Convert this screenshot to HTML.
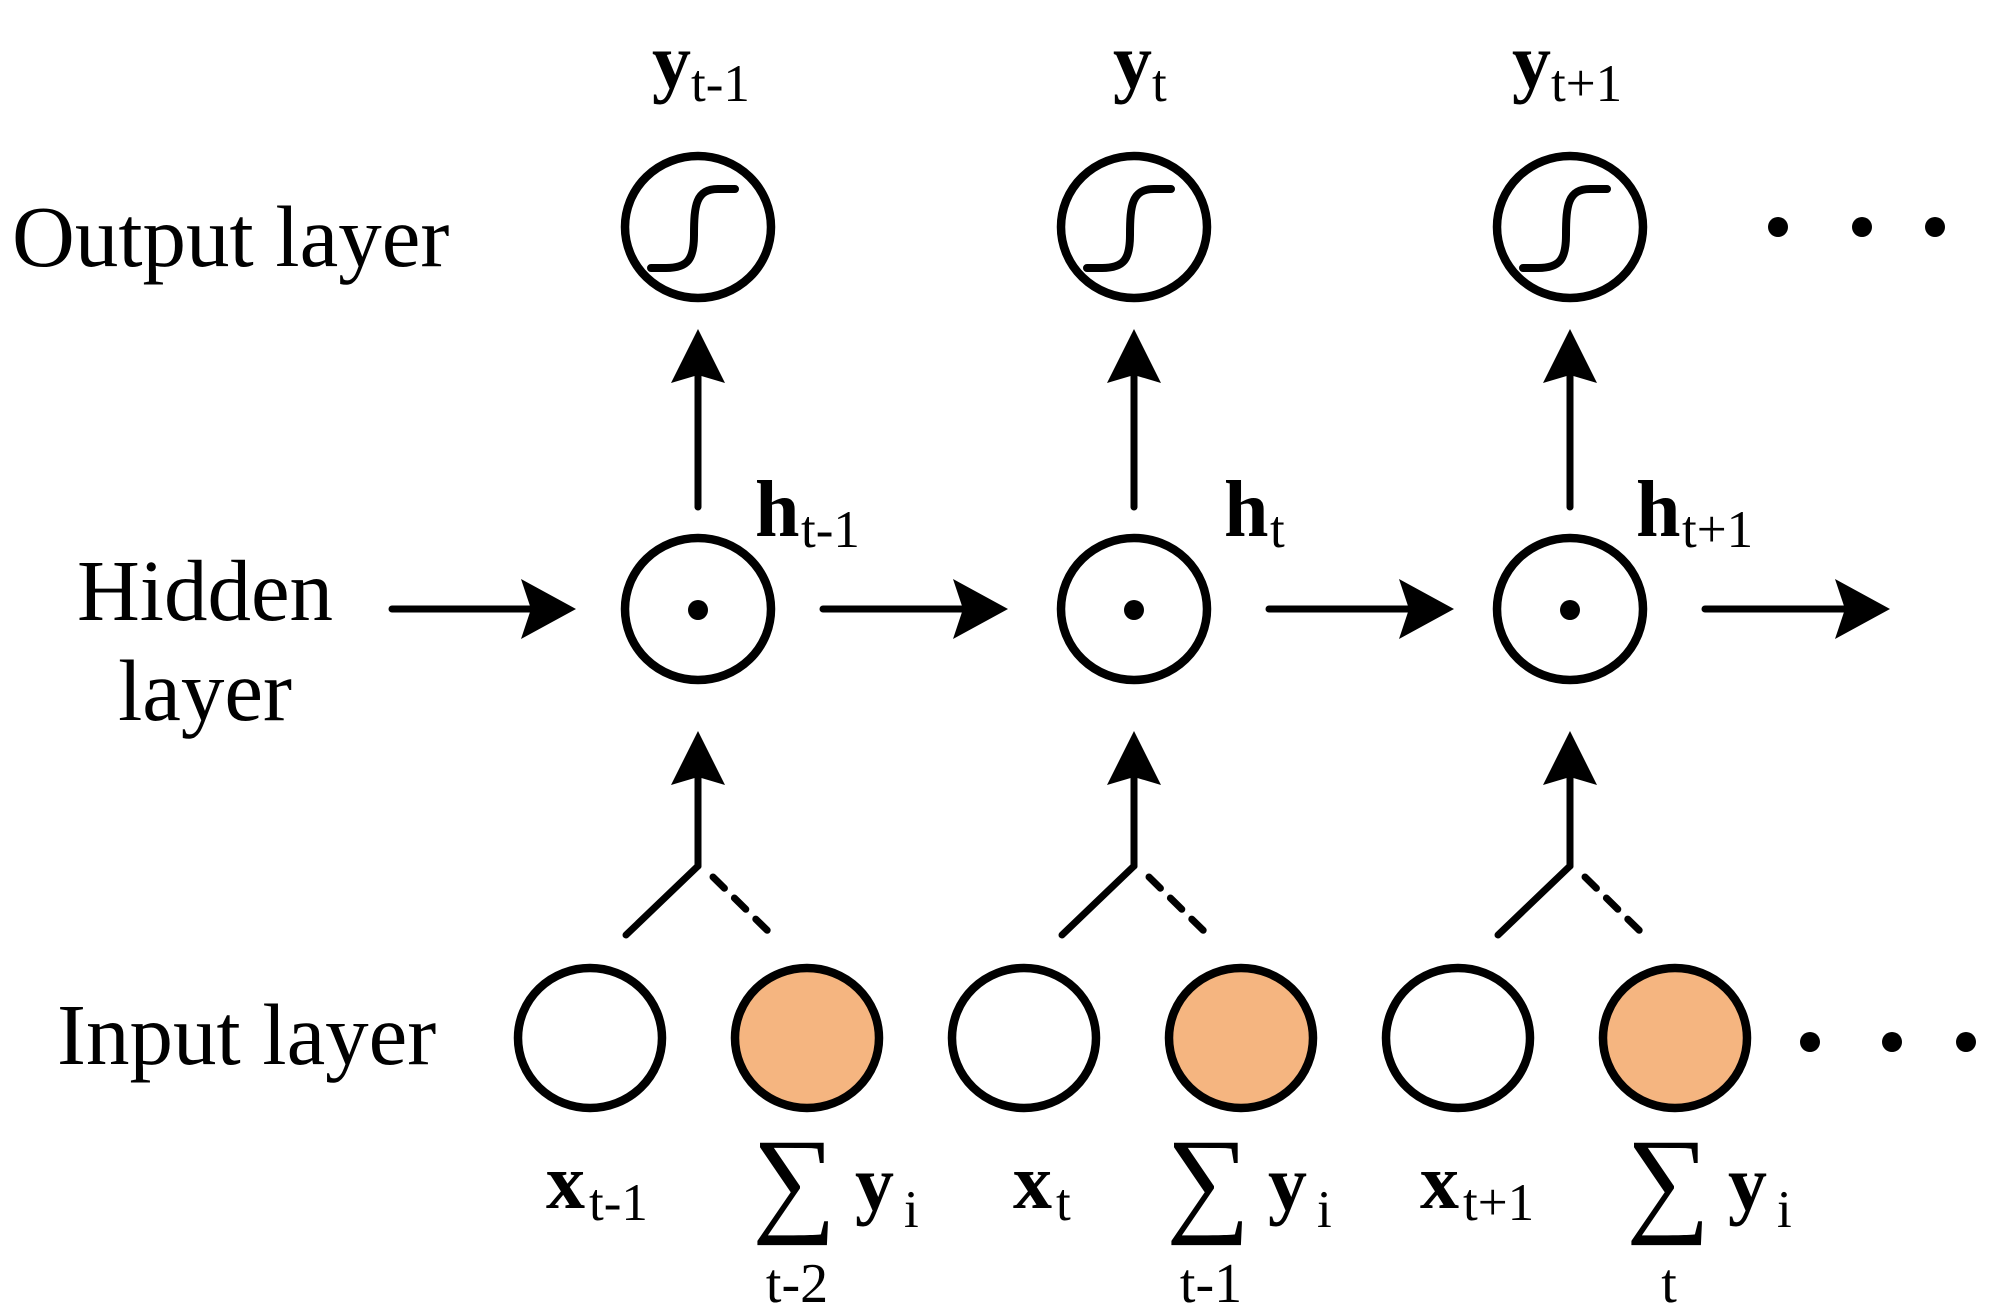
<!DOCTYPE html>
<html><head><meta charset="utf-8"><style>
html,body{margin:0;padding:0;background:#fff}
svg{display:block}
text{font-family:"Liberation Serif",serif;fill:#000}
.b{font-weight:bold}
</style></head><body>
<svg width="1991" height="1309" viewBox="0 0 1991 1309" xmlns="http://www.w3.org/2000/svg">
<defs>
<g id="sig"><path d="M-47,41 L-32,41 C-10,41 -4,32 -4,8 C-4,-22 -2,-38 20,-38 L37,-38" fill="none" stroke="#000" stroke-width="8" stroke-linecap="round"/></g>
<path id="hh" d="M0,0 L-55,-30 L-45,0 L-55,30 Z"/>
<path id="vh" d="M0,0 L-27,54 L0,46 L27,54 Z"/>
</defs>
<g stroke="#000" stroke-width="8.5" fill="none">
<ellipse cx="698" cy="227" rx="73" ry="71"/>
<ellipse cx="1134" cy="227" rx="73" ry="71"/>
<ellipse cx="1570" cy="227" rx="73" ry="71"/>
<ellipse cx="698" cy="609" rx="73" ry="71"/>
<ellipse cx="1134" cy="609" rx="73" ry="71"/>
<ellipse cx="1570" cy="609" rx="73" ry="71"/>
<ellipse cx="590" cy="1038" rx="72" ry="70"/>
<ellipse cx="1024" cy="1038" rx="72" ry="70"/>
<ellipse cx="1458" cy="1038" rx="72" ry="70"/>
<ellipse cx="807" cy="1038" rx="72" ry="70" fill="#F5B580"/>
<ellipse cx="1241" cy="1038" rx="72" ry="70" fill="#F5B580"/>
<ellipse cx="1675" cy="1038" rx="72" ry="70" fill="#F5B580"/>
</g>
<use href="#sig" x="698" y="227"/><use href="#sig" x="1134" y="227"/><use href="#sig" x="1570" y="227"/>
<g fill="#000">
<ellipse cx="698" cy="610" rx="10" ry="10"/><ellipse cx="1134" cy="610" rx="10" ry="10"/><ellipse cx="1570" cy="610" rx="10" ry="10"/>
<circle cx="1778" cy="227" r="10"/><circle cx="1862" cy="227" r="10"/><circle cx="1935" cy="227" r="10"/>
<circle cx="1810" cy="1042" r="10"/><circle cx="1892" cy="1042" r="10"/><circle cx="1966" cy="1042" r="10"/>
</g>
<g stroke="#000" stroke-width="7" stroke-linecap="round" fill="none">
<line x1="698" y1="507" x2="698" y2="375"/><line x1="1134" y1="507" x2="1134" y2="375"/><line x1="1570" y1="507" x2="1570" y2="375"/>
<line x1="392" y1="609" x2="540" y2="609"/><line x1="823" y1="609" x2="975" y2="609"/><line x1="1269" y1="609" x2="1420" y2="609"/><line x1="1705" y1="609" x2="1855" y2="609"/>
<line x1="698" y1="866" x2="698" y2="775"/><line x1="1134" y1="866" x2="1134" y2="775"/><line x1="1570" y1="866" x2="1570" y2="775"/>
<line x1="698" y1="866" x2="626" y2="935"/><line x1="1134" y1="866" x2="1062" y2="935"/><line x1="1570" y1="866" x2="1498" y2="935"/>
<g stroke-dasharray="16 14"><line x1="713" y1="877" x2="774" y2="937"/><line x1="1149" y1="877" x2="1210" y2="937"/><line x1="1585" y1="877" x2="1646" y2="937"/></g>
</g>
<g fill="#000">
<use href="#vh" x="698" y="329"/><use href="#vh" x="1134" y="329"/><use href="#vh" x="1570" y="329"/>
<use href="#vh" x="698" y="731"/><use href="#vh" x="1134" y="731"/><use href="#vh" x="1570" y="731"/>
<use href="#hh" x="576" y="609"/><use href="#hh" x="1008" y="609"/><use href="#hh" x="1454" y="609"/><use href="#hh" x="1890" y="609"/>
</g>
<text x="12" y="266" font-size="87">Output layer</text>
<text x="205" y="620" font-size="87" text-anchor="middle">Hidden</text>
<text x="205" y="720" font-size="87" text-anchor="middle">layer</text>
<text x="57" y="1064" font-size="87">Input layer</text>
<text x="652" y="88" font-size="78" class="b">y</text><text x="691" y="101" font-size="53">t-1</text>
<text x="1113" y="88" font-size="78" class="b">y</text><text x="1152" y="101" font-size="53">t</text>
<text x="1512" y="88" font-size="78" class="b">y</text><text x="1551" y="101" font-size="53">t+1</text>
<text x="755" y="536" font-size="80" class="b">h</text><text x="801" y="547" font-size="53">t-1</text>
<text x="1224" y="536" font-size="80" class="b">h</text><text x="1270" y="547" font-size="53">t</text>
<text x="1636" y="536" font-size="80" class="b">h</text><text x="1682" y="547" font-size="53">t+1</text>
<text x="546" y="1208" font-size="78" class="b">x</text><text x="589" y="1220" font-size="53">t-1</text>
<text x="1013" y="1208" font-size="78" class="b">x</text><text x="1056" y="1220" font-size="53">t</text>
<text x="1420" y="1208" font-size="78" class="b">x</text><text x="1463" y="1220" font-size="53">t+1</text>
<text x="752" y="1220" font-size="118">∑</text><text x="855" y="1210" font-size="78" class="b">y</text><text x="904" y="1227" font-size="53">i</text><text x="797" y="1302" font-size="56" text-anchor="middle">t-2</text>
<text x="1166" y="1220" font-size="118">∑</text><text x="1268" y="1210" font-size="78" class="b">y</text><text x="1317" y="1227" font-size="53">i</text><text x="1211" y="1302" font-size="56" text-anchor="middle">t-1</text>
<text x="1626" y="1220" font-size="118">∑</text><text x="1728" y="1210" font-size="78" class="b">y</text><text x="1777" y="1227" font-size="53">i</text><text x="1669" y="1302" font-size="56" text-anchor="middle">t</text>
</svg>
</body></html>
